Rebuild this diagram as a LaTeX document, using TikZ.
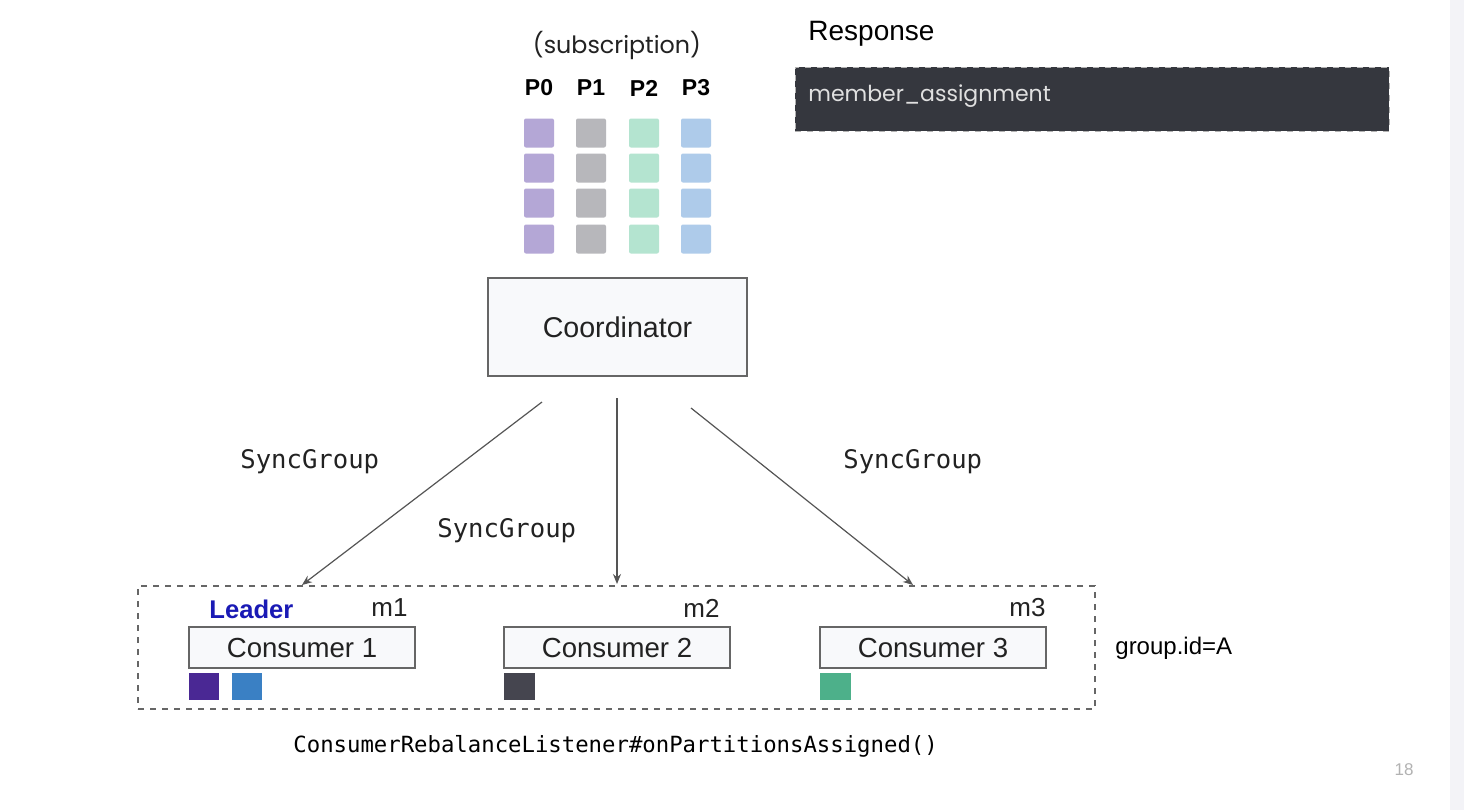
\documentclass[tikz,border=0pt]{standalone}
\usepackage{fontspec}
\setmainfont{Liberation Sans}
\newfontfamily\popfont{Poppins}
\setmonofont{DejaVu Sans Mono}
\usetikzlibrary{arrows.meta}
\definecolor{sqA}{HTML}{B4A7D6}
\definecolor{sqB}{HTML}{B7B7BB}
\definecolor{sqC}{HTML}{B4E4D0}
\definecolor{sqD}{HTML}{AECBEA}
\definecolor{boxfill}{HTML}{F8F9FB}
\definecolor{boxline}{HTML}{666666}
\definecolor{darkbox}{HTML}{35373E}
\definecolor{leaderblue}{HTML}{1A1AB5}
\definecolor{cpurple}{HTML}{4A2894}
\definecolor{cblue}{HTML}{3A80C4}
\definecolor{cgray}{HTML}{45454F}
\definecolor{cgreen}{HTML}{4DB08A}
\definecolor{arrowgray}{HTML}{555555}
\definecolor{txt}{HTML}{222222}
\definecolor{strip}{HTML}{F3F3F7}
\tikzset{
  x=0.5pt, y=-0.5pt,
  sq/.style={fill=#1, rounded corners=1pt},
  boxnode/.style={draw=boxline, fill=boxfill, line width=0.6pt, inner sep=0pt, text=txt},
  conn/.style={draw=arrowgray, line width=0.6pt, -{Stealth[length=5pt,width=4pt]}},
  monolbl/.style={font=\ttfamily\fontsize{12.8}{14}\selectfont, text=txt, anchor=west, inner sep=0pt},
  plabel/.style={font=\bfseries\fontsize{11.5}{13}\selectfont, text=black, inner sep=0pt},
  mlabel/.style={font=\fontsize{13}{15}\selectfont, text=txt, inner sep=0pt, anchor=east},
  consbox/.style={boxnode, minimum width=113pt, minimum height=20.5pt, font=\fontsize{13.8}{15}\selectfont},
}
\begin{document}
\begin{tikzpicture}
\useasboundingbox (0,0) rectangle (1464,810);
\fill[white] (0,0) rectangle (1464,810);
\fill[strip] (1450,0) rectangle (1464,810);

% subscription
\node[font=\popfont\fontsize{11.9}{13}\selectfont, text=txt, inner sep=0pt] (subs) at (617,45) {(subscription)};
\foreach \i/\x/\c in {0/539/sqA,1/591/sqB,2/644/sqC,3/696/sqD}{
  \node[plabel] (p\i) at (\x,88) {P\i};
  \foreach \y in {133,168,203,239}{
    \fill[sq=\c] (\x-15,\y-14.5) rectangle (\x+15,\y+14.5);
  }
}

% coordinator
\node[boxnode, minimum width=129.5pt, minimum height=49pt, font=\fontsize{14.3}{16}\selectfont] (coord) at (617.5,327) {Coordinator};

% response
\node[font=\fontsize{14}{16}\selectfont, text=black, anchor=west, inner sep=0pt] (resp) at (808,34) {Response};
\node[draw=gray!60, dashed, line width=0.5pt, fill=darkbox, minimum width=297pt, minimum height=32pt, inner sep=0pt] (rbox) at (1092,99) {};
\node[font=\popfont\fontsize{11}{13}\selectfont, text=white!88!black, anchor=west, inner sep=0pt] (ma) at (808,96) {member\_assignment};

% group
\node[draw=boxline, dashed, line width=0.6pt, minimum width=478.5pt, minimum height=61.5pt, inner sep=0pt] (group) at (616.5,647.5) {};
\node[font=\fontsize{12}{14}\selectfont, text=black, anchor=west, inner sep=0pt] (gid) at (1115,648) {group.id=A};

\node[font=\bfseries\fontsize{12.8}{15}\selectfont, text=leaderblue, anchor=west, inner sep=0pt] (leader) at (209,609) {Leader};
\node[mlabel] (m1) at (408,608) {m1};
\node[mlabel] (m2) at (720,608) {m2};
\node[mlabel] (m3) at (1046,608) {m3};

\node[consbox] (c1) at (302,647.5) {Consumer 1};
\node[consbox] (c2) at (617,647.5) {Consumer 2};
\node[consbox] (c3) at (933,647.5) {Consumer 3};

\fill[cpurple] (189,673) rectangle (219,700);
\fill[cblue] (232,673) rectangle (262,700);
\fill[cgray] (504,673) rectangle (535,700);
\fill[cgreen] (820,673) rectangle (851,700);

% connectors
\coordinate (s1) at (542,402);
\coordinate (s2) at (617,398);
\coordinate (s3) at (691,408);
\coordinate (e1) at (302,585);
\coordinate (e2) at (617,584);
\coordinate (e3) at (913,585);
\draw[conn] (s1) -- (e1);
\draw[conn] (s2) -- (e2);
\draw[conn] (s3) -- (e3);

\node[monolbl] (sg1) at (240,462) {SyncGroup};
\node[monolbl] (sg2) at (437,531) {SyncGroup};
\node[monolbl] (sg3) at (843,462) {SyncGroup};

\node[font=\ttfamily\fontsize{11.15}{14}\selectfont, text=black, anchor=west, inner sep=0pt] (crl) at (293,746) {ConsumerRebalanceListener\#onPartitionsAssigned()};

\node[font=\fontsize{8.5}{10}\selectfont, text=gray!60, inner sep=0pt] (pg) at (1404,770) {18};
\end{tikzpicture}
\end{document}
